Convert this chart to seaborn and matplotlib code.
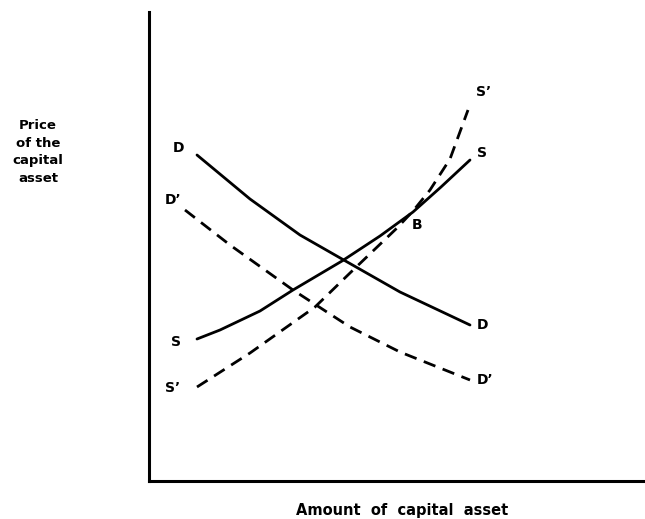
import pandas as pd
import numpy as np
import matplotlib
matplotlib.use("Agg")
import matplotlib.pyplot as plt
import seaborn as sns

# Points (x = amount, y = price, arbitrary units from the origin)
d_x = [48, 101, 151, 193, 251, 321]
d_y = [326, 282, 246, 222, 189, 156]

s_x = [48, 71, 111, 144, 193, 231, 264, 292, 321]
s_y = [142, 151, 170, 191, 220, 245, 269, 294, 321]

d2_x = [36, 81, 144, 201, 251, 321]
d2_y = [271, 236, 191, 154, 129, 101]

s2_x = [48, 101, 166, 201, 248, 264, 281, 301, 319]
s2_y = [94, 128, 174, 208, 253, 270, 291, 322, 371]

curve_labels = ["D", "D\u2019", "S", "S\u2019", "S\u2019", "S", "B", "D", "D\u2019"]
label_x = [29, 24, 27, 24, 335, 333, 268, 333, 336]
label_y = [333, 281, 139, 93, 389, 328, 256, 156, 101]

sns.set_style("white")
plt.rcParams['font.family'] = ['DejaVu Sans']
plt.rcParams['text.color'] = 'black'

fig = plt.figure(figsize=(6.45, 5.19), dpi=100)
ax = fig.add_axes([149 / 645, 38 / 519, 496 / 645, 469 / 519])

df_d = pd.DataFrame({'x': d_x, 'y': d_y})
df_s = pd.DataFrame({'x': s_x, 'y': s_y})
df_d2 = pd.DataFrame({'x': d2_x, 'y': d2_y})
df_s2 = pd.DataFrame({'x': s2_x, 'y': s2_y})

# courbes pleines D et S, tiretées D' et S'
sns.lineplot(data=df_d, x='x', y='y', sort=False, color='black', lw=2, ax=ax)
sns.lineplot(data=df_s, x='x', y='y', sort=False, color='black', lw=2, ax=ax)
sns.lineplot(data=df_d2, x='x', y='y', sort=False, color='black', lw=2,
             dashes=False, ax=ax, linestyle=(0, (4.5, 2.8)))
sns.lineplot(data=df_s2, x='x', y='y', sort=False, color='black', lw=2,
             dashes=False, ax=ax, linestyle=(0, (4.5, 2.8)))

for lab, lx, ly in zip(curve_labels, label_x, label_y):
    ax.text(lx, ly, lab, ha='center', va='center', fontsize=10, fontweight='bold',
            color='black')

ax.set_xlim(0, 496)
ax.set_ylim(0, 469)
ax.set_xticks([])
ax.set_yticks([])
ax.set_xlabel('')
ax.set_ylabel('')
for side in ['top', 'right']:
    ax.spines[side].set_visible(False)
for side in ['left', 'bottom']:
    ax.spines[side].set_linewidth(2.2)
    ax.spines[side].set_color('black')

fig.text(38 / 645, 1 - 152 / 519, "Price\nof the\ncapital\nasset", ha='center', va='center',
         fontsize=9.5, fontweight='bold', linespacing=1.45, color='black')
fig.text(402 / 645, 1 - 511 / 519, "Amount  of  capital  asset", ha='center', va='center',
         fontsize=10.5, fontweight='bold', color='black')

plt.savefig('out.png', dpi=100)
